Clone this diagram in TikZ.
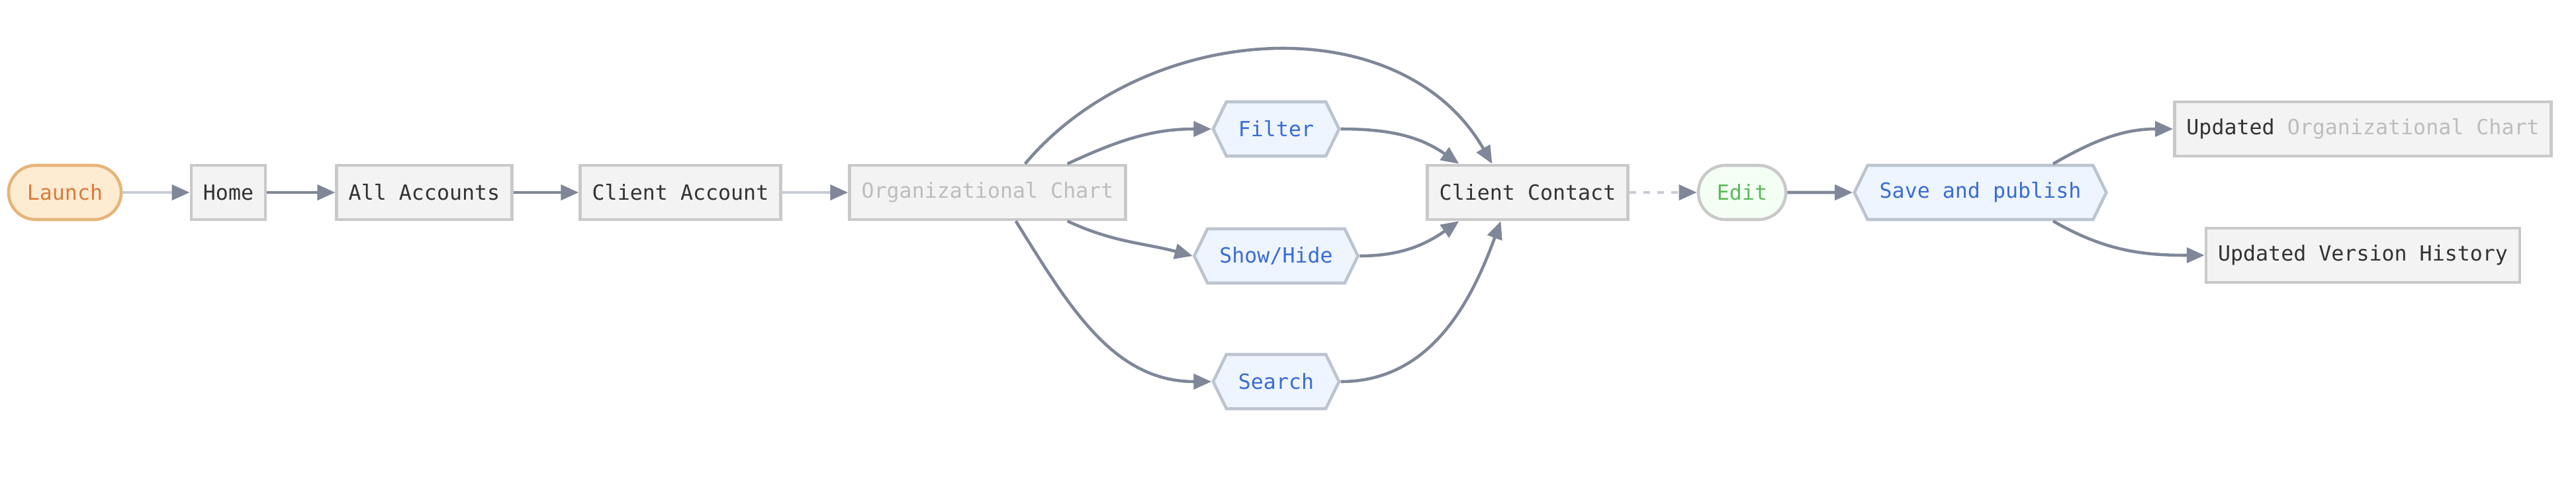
\documentclass[tikz,border=0pt]{standalone}
\usepackage{fontspec}
\setmonofont{DejaVu Sans Mono}
\usetikzlibrary{arrows.meta, positioning, shapes.symbols}
\definecolor{cbox}{HTML}{F3F3F3}
\definecolor{cboxline}{HTML}{C9C9C9}
\definecolor{ctext}{HTML}{333333}
\definecolor{cfade}{HTML}{BDBDBD}
\definecolor{chex}{HTML}{EEF5FF}
\definecolor{chexline}{HTML}{BCC4D0}
\definecolor{cblue}{HTML}{3A6CD4}
\definecolor{corange}{HTML}{D97B3A}
\definecolor{corangefill}{HTML}{FDEBD2}
\definecolor{corangeline}{HTML}{E6B57A}
\definecolor{cgreen}{HTML}{5CB85C}
\definecolor{cgreenfill}{HTML}{F4FFF4}
\definecolor{cgreenline}{HTML}{C9C9C9}
\definecolor{cedge}{HTML}{7F8798}
\definecolor{cedgelight}{HTML}{C8CCD5}
\tikzset{
  every picture/.style={font=\ttfamily\fontsize{9}{11}\selectfont, line width=1.3pt},
  box/.style={rectangle, draw=cboxline, fill=cbox, text=ctext, inner xsep=0.18cm, inner ysep=0pt, minimum height=0.82cm},
  pill/.style={rectangle, rounded corners=0.41cm, draw=#1line, fill=#1fill, text=#1, inner xsep=0.28cm, inner ysep=0pt, minimum height=0.82cm},
  hexbox/.style={signal, signal to=east and west, signal pointer angle=128, draw=chexline, fill=chex, text=cblue, inner xsep=0.18cm, inner ysep=0pt, minimum height=0.82cm},
  arrow/.style={-{Triangle[length=0.27cm, width=0.23cm, color=cedge]}, draw=cedge, line width=1.3pt},
  faded/.style={draw=cedgelight},
}

\begin{document}
\begin{tikzpicture}
  \useasboundingbox (0,0) rectangle (38.92,7.49);
  % main row
  \node[pill=corange] (launch) at (0.98,4.58) {Launch};
  \node[box] (home) at (3.45,4.58) {Home};
  \node[box] (allacc) at (6.41,4.58) {All Accounts};
  \node[box] (clientacc) at (10.28,4.58) {Client Account};
  \node[box, text=cfade] (orgchart) at (14.92,4.58) {Organizational Chart};
  % the three views
  \node[hexbox] (filter) at (19.28,5.54) {Filter};
  \node[hexbox] (showhide) at (19.28,3.62) {Show/Hide};
  \node[hexbox] (search) at (19.28,1.72) {Search};
  \node[box] (contact) at (23.08,4.58) {Client Contact};
  \node[pill=cgreen] (edit) at (26.32,4.58) {Edit};
  \node[hexbox] (save) at (29.92,4.58) {Save and publish};
  % results
  \node[box] (updorg) at (35.70,5.54) {Updated \textcolor{cfade}{Organizational Chart}};
  \node[box] (updver) at (35.70,3.63) {Updated Version History};

  \draw[arrow, faded] (launch) -- (home);
  \draw[arrow] (home) -- (allacc);
  \draw[arrow] (allacc) -- (clientacc);
  \draw[arrow, faded] (clientacc) -- (orgchart);
  \draw[arrow] ([xshift=-0.9cm]orgchart.north east) to[out=25, in=180] (filter.west);
  \draw[arrow] ([xshift=-0.9cm]orgchart.south east) to[out=-25, in=165] (showhide.west);
  \draw[arrow] ([xshift=-1.68cm]orgchart.south east) to[out=-58, in=180] (search.west);
  \draw[arrow] ([xshift=-1.54cm]orgchart.north east) .. controls +(50:2.8) and +(120:2.8) .. ([xshift=1.0cm]contact.north west);
  \draw[arrow] (filter.east) to[out=0, in=145] ([xshift=0.5cm]contact.north west);
  \draw[arrow] (showhide.east) to[out=0, in=215] ([xshift=0.5cm]contact.south west);
  \draw[arrow] (search.east) to[out=0, in=250] ([xshift=1.13cm]contact.south west);
  \draw[arrow, faded, dashed] (contact) -- (edit);
  \draw[arrow] (edit) -- (save);
  \draw[arrow] ([xshift=1.1cm]save.north) to[out=30, in=180] (updorg.west);
  \draw[arrow] ([xshift=1.1cm]save.south) to[out=-30, in=180] (updver.west);
\end{tikzpicture}
\end{document}
